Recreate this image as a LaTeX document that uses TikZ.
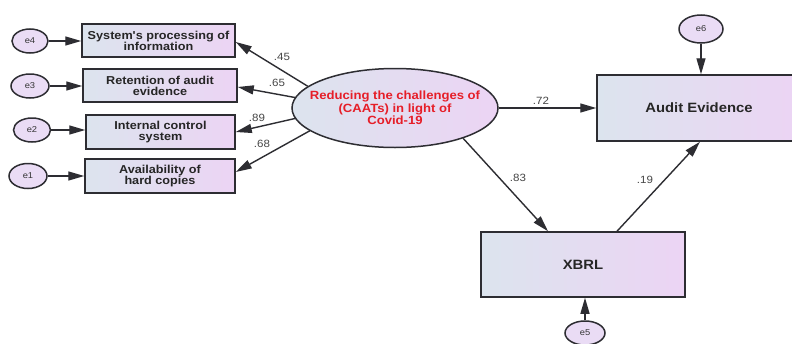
\documentclass[tikz,border=0pt]{standalone}
\usepackage{fontspec}
\setmainfont{Liberation Sans}
\newfontfamily\stfont[FakeStretch=1.1]{Liberation Sans}
\usetikzlibrary{arrows.meta,shapes.geometric}
\definecolor{boxL}{RGB}{220,228,238}
\definecolor{boxR}{RGB}{236,212,244}
\definecolor{errF}{RGB}{234,220,245}
\definecolor{edge}{RGB}{45,45,50}
\definecolor{numC}{RGB}{70,70,70}
\definecolor{redT}{RGB}{230,30,40}
\tikzset{
  x=1pt,y=1pt,
  obsbox/.style={draw=edge,line width=1.5pt,rectangle,left color=boxL,right color=boxR,
    align=center,inner sep=1pt,font=\stfont\bfseries\fontsize{11.5}{11.2}\selectfont,text=black!85},
  bigbox/.style={obsbox,minimum width=204pt,minimum height=65pt,font=\stfont\bfseries\fontsize{13.5}{14}\selectfont},
  errc/.style={draw=edge,line width=1.5pt,ellipse,fill=errF,inner sep=0pt,
    font=\stfont\fontsize{8.5}{9}\selectfont,text=black!80},
  latent/.style={draw=edge,line width=1.5pt,ellipse,left color=boxL,right color=boxR,
    minimum width=206pt,minimum height=79pt,align=center,inner xsep=-14pt,inner ysep=0pt,
    font=\stfont\bfseries\fontsize{11.9}{12.5}\selectfont,text=redT},
  conn/.style={draw=edge,line width=1.4pt,-{Triangle[length=16pt,width=9pt]}},
  coef/.style={font=\stfont\fontsize{10.5}{11}\selectfont,text=numC,inner sep=0pt}
}
\begin{document}
\begin{tikzpicture}
\useasboundingbox (0,0) rectangle (792,-343);
\clip (0,0) rectangle (792,-343);
\fill[white] (0,0) rectangle (792,-343);
% observed boxes
\node[obsbox,minimum width=153pt,minimum height=33pt] (b1) at (158.5,-40.5) {System's processing of\\information};
\node[obsbox,minimum width=154pt,minimum height=33pt] (b2) at (160,-85.5) {Retention of audit\\evidence};
\node[obsbox,minimum width=149pt,minimum height=34pt] (b3) at (160.5,-132) {Internal control\\system};
\node[obsbox,minimum width=150pt,minimum height=34pt] (b4) at (160,-176) {Availability of\\hard copies};
% error terms
\node[errc,minimum width=36pt,minimum height=24pt] (e4) at (30,-41) {e4};
\node[errc,minimum width=38pt,minimum height=24pt] (e3) at (30,-86) {e3};
\node[errc,minimum width=37pt,minimum height=24pt] (e2) at (32,-130) {e2};
\node[errc,minimum width=38pt,minimum height=25pt] (e1) at (28,-176) {e1};
% latent
\node[latent] (L) at (395,-108) {Reducing the challenges of\\(CAATs) in light of\\Covid-19};
% big boxes
\node[bigbox,minimum height=66pt] (AE) at (699,-108) {Audit Evidence};
\node[bigbox] (X) at (583,-264.5) {XBRL};
\node[errc,minimum width=44pt,minimum height=28pt] (e6) at (701,-29) {e6};
\node[errc,minimum width=40pt,minimum height=24pt] (e5) at (585,-333) {e5};
% connectors
\draw[conn] (e4.east) -- (e4.east -| b1.west);
\draw[conn] (e3.east) -- (e3.east -| b2.west);
\draw[conn] (e2.east) -- (e2.east -| b3.west);
\draw[conn] (e1.east) -- (e1.east -| b4.west);
\draw[conn] (L.166) -- ([yshift=-1.5pt]b1.east);
\draw[conn] (L.174) -- ([yshift=-1.5pt]b2.east);
\draw[conn] (L.186) -- (b3.east);
\draw[conn] (L.195) -- ([yshift=4pt]b4.east);
\draw[conn] (L.east) -- (AE.west);
\draw[conn] (L.336) -- ([xshift=-35pt]X.north);
\draw[conn] ([xshift=34pt]X.north) -- ([xshift=1pt]AE.south);
\draw[conn] (e6.south) -- (e6.south |- AE.north);
\draw[conn] (e5.north) -- (e5.north |- X.south);
% coefficients
\node[coef] (c45) at (282,-57) {.45};
\node[coef] (c65) at (277,-83) {.65};
\node[coef] (c89) at (257,-118) {.89};
\node[coef] (c68) at (262,-144) {.68};
\node[coef] (c72) at (541,-101) {.72};
\node[coef] (c83) at (518,-178) {.83};
\node[coef] (c19) at (645,-180) {.19};
\end{tikzpicture}
\end{document}
